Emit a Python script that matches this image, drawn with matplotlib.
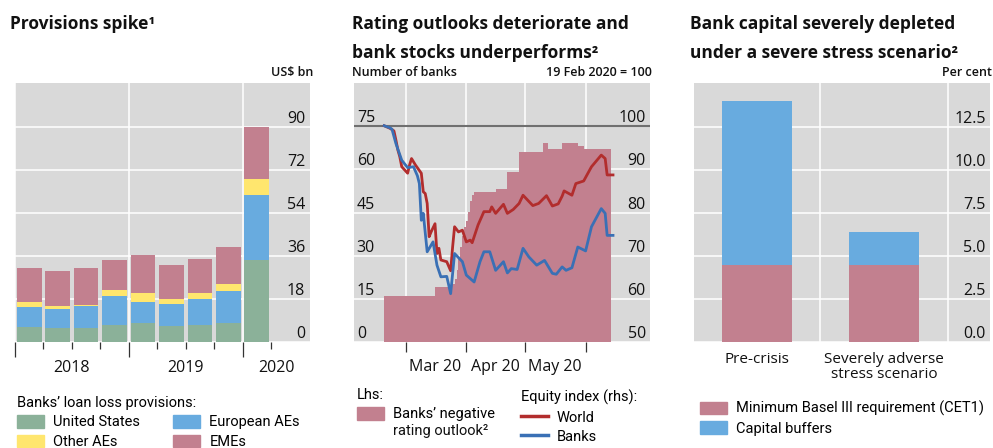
import matplotlib
matplotlib.use("Agg")
import matplotlib.pyplot as plt
import matplotlib.dates as mdates
from matplotlib.patches import Patch
from matplotlib.lines import Line2D
import pandas as pd

plt.rcParams['font.family'] = ['Open Sans', 'DejaVu Sans']

# ---- panel 1: loan loss provisions, US$ bn
quarters = ['2018Q1', '2018Q2', '2018Q3', '2018Q4',
            '2019Q1', '2019Q2', '2019Q3', '2019Q4', '2020Q1']
united_states = [6.1, 5.9, 5.9, 7.0, 7.8, 6.7, 7.0, 7.8, 34.3]
european_aes = [8.4, 7.8, 9.0, 12.1, 8.8, 9.1, 10.9, 13.4, 27.1]
other_aes = [2.1, 1.2, 0.4, 2.5, 3.8, 2.1, 2.5, 3.3, 6.7]
emes = [14.2, 14.7, 15.5, 12.6, 15.9, 14.2, 14.2, 15.1, 22.1]
years = ['2018', '2019', '2020']
p1_ticks = [0, 18, 36, 54, 72, 90]

# ---- panel 2: negative outlooks (lhs) and equity indices (rhs)
outlook_dates = ['2020-02-19', '2020-03-16', '2020-03-24', '2020-03-26', '2020-03-27',
                 '2020-03-28', '2020-03-29', '2020-03-30', '2020-03-31', '2020-04-01',
                 '2020-04-02', '2020-04-03', '2020-04-04', '2020-04-05', '2020-04-16',
                 '2020-04-22', '2020-04-28', '2020-05-10', '2020-05-13', '2020-05-20',
                 '2020-05-28', '2020-05-31', '2020-06-14']
outlook_vals = [16, 19, 20, 22, 25, 29, 33, 37, 40, 42, 45, 49, 51, 52, 53,
                59, 66, 69, 67, 69, 68, 67, 67]

world_dates = ['2020-02-19', '2020-02-22', '2020-02-24', '2020-02-25', '2020-02-26',
               '2020-02-27', '2020-02-28', '2020-03-02', '2020-03-03', '2020-03-04',
               '2020-03-06', '2020-03-09', '2020-03-10', '2020-03-11', '2020-03-12',
               '2020-03-13', '2020-03-14', '2020-03-16', '2020-03-17', '2020-03-18',
               '2020-03-19', '2020-03-22', '2020-03-24', '2020-03-25', '2020-03-26',
               '2020-03-28', '2020-03-30', '2020-04-01', '2020-04-03', '2020-04-04',
               '2020-04-07', '2020-04-10', '2020-04-13', '2020-04-14', '2020-04-16',
               '2020-04-20', '2020-04-22', '2020-04-25', '2020-04-28', '2020-04-30',
               '2020-05-05', '2020-05-08', '2020-05-12', '2020-05-15', '2020-05-18',
               '2020-05-20', '2020-05-21', '2020-05-25', '2020-05-27', '2020-05-31',
               '2020-06-04', '2020-06-09', '2020-06-11', '2020-06-12', '2020-06-15']
world_vals = [100.1, 99.5, 98.9, 96.8, 94.5, 92.9, 90.6, 89.1, 91.0, 92.5,
              91.0, 89.1, 84.8, 84.4, 82.1, 74.4, 75.5, 77.4, 70.5, 71.7,
              69.0, 68.6, 66.5, 72.0, 76.7, 75.5, 75.9, 73.2, 73.6, 73.0,
              77.1, 80.2, 80.2, 81.3, 79.8, 81.9, 79.8, 80.7, 82.1, 84.0,
              81.6, 82.1, 83.9, 81.5, 82.0, 83.8, 85.0, 84.0, 86.7, 87.3,
              90.6, 93.3, 92.5, 88.7, 88.7]

bank_dates = ['2020-02-19', '2020-02-22', '2020-02-23', '2020-02-25', '2020-02-28',
              '2020-03-02', '2020-03-05', '2020-03-07', '2020-03-08', '2020-03-09',
              '2020-03-10', '2020-03-12', '2020-03-15', '2020-03-17', '2020-03-19',
              '2020-03-22', '2020-03-24', '2020-03-26', '2020-03-30', '2020-04-01',
              '2020-04-05', '2020-04-08', '2020-04-10', '2020-04-13', '2020-04-16',
              '2020-04-20', '2020-04-22', '2020-04-24', '2020-04-27', '2020-04-30',
              '2020-05-03', '2020-05-07', '2020-05-11', '2020-05-15', '2020-05-17',
              '2020-05-20', '2020-05-22', '2020-05-25', '2020-05-28', '2020-06-01',
              '2020-06-04', '2020-06-09', '2020-06-11', '2020-06-12', '2020-06-15']
bank_vals = [100.1, 99.6, 99.3, 96.0, 92.1, 90.4, 90.6, 88.5, 86.7, 78.2,
             79.8, 70.9, 73.2, 67.8, 65.1, 65.2, 61.2, 70.5, 68.6, 65.5,
             63.9, 68.6, 70.9, 70.9, 66.6, 68.6, 66.0, 67.0, 66.8, 71.7,
             69.7, 67.8, 68.9, 65.9, 65.7, 67.4, 66.6, 67.2, 72.0, 71.1,
             76.7, 80.9, 79.8, 74.7, 74.7]
lhs_ticks = [0, 15, 30, 45, 60, 75]
rhs_ticks = [50, 60, 70, 80, 90, 100]

# ---- panel 3: CET1 ratios, per cent
scenarios = ['Pre-crisis', 'Severely adverse\nstress scenario']
cet1_min = [4.5, 4.5]
capital_buffers = [9.5, 1.9]
p3_ticks = [0.0, 2.5, 5.0, 7.5, 10.0, 12.5]

GREY = '#D9D9D9'
GREEN = '#8BB199'
BLUE = '#68ABDF'
YELLOW = '#FFE66E'
PINK = '#C2808F'
RED = '#B22D2D'
NAVY = '#3A70B5'
TXT = '#111111'

W, H = 993, 448
fig = plt.figure(figsize=(W / 100, H / 100), dpi=100)


def px_axes(left, top, right, bottom):
    return fig.add_axes([left / W, 1 - bottom / H, (right - left) / W, (bottom - top) / H])


def fx(x):
    return x / W


def fy(y):
    return 1 - y / H


def style(ax):
    ax.set_facecolor(GREY)
    for s in ax.spines.values():
        s.set_visible(False)
    ax.set_axisbelow(True)
    ax.grid(True, color='white', linewidth=1.1)


# ---------------- panel 1
ax1 = px_axes(15, 83, 310, 342)
style(ax1)
xpos = list(range(len(quarters)))
b0 = united_states
b1 = [a + b for a, b in zip(b0, european_aes)]
b2 = [a + b for a, b in zip(b1, other_aes)]
ax1.bar(xpos, united_states, width=0.87, color=GREEN)
ax1.bar(xpos, european_aes, bottom=b0, width=0.87, color=BLUE)
ax1.bar(xpos, other_aes, bottom=b1, width=0.87, color=YELLOW)
ax1.bar(xpos, emes, bottom=b2, width=0.87, color=PINK)
ax1.set_xlim(-0.48, 9.87)
ax1.set_ylim(0, 108.5)
ax1.set_xticks([-0.5, 3.5, 7.5])
ax1.set_xticks([0.5, 1.5, 2.5, 4.5, 5.5, 6.5, 8.5], minor=True)
ax1.tick_params(axis='x', which='major', length=11, width=0.9, color='#333333', labelbottom=False)
ax1.tick_params(axis='x', which='minor', length=5, width=0.9, color='#333333')
ax1.grid(False, axis='x', which='minor')
ax1.yaxis.tick_right()
ax1.set_yticks(p1_ticks, labels=[str(t) for t in p1_ticks], ha='right', va='bottom')
ax1.tick_params(axis='y', length=0, pad=-3.5, labelsize=11.5, labelcolor=TXT)
for x, yr in zip([1.5, 5.5, 8.68], years):
    ax1.text(x, -0.1, yr, transform=ax1.get_xaxis_transform(), ha='center', va='center',
             fontsize=11.5, color=TXT)

# ---------------- panel 2
ax2 = px_axes(354, 83, 650, 342)
style(ax2)
od = pd.to_datetime(outlook_dates)
ax2.fill_between(od, 0, outlook_vals, step='post', color=PINK, linewidth=0)
ax2.set_ylim(0, 90)
ax2.set_xlim(pd.Timestamp('2020-02-03 14:00'), pd.Timestamp('2020-07-03 22:00'))
ax2.set_yticks(lhs_ticks, labels=[str(t) for t in lhs_ticks], ha='left', va='bottom')
ax2.tick_params(axis='y', length=0, pad=-2, labelsize=11.5, labelcolor=TXT)
ax2.axhline(75, color='#707070', linewidth=1.5, zorder=3)
ax2.xaxis.set_major_locator(mdates.MonthLocator(bymonth=[3, 4, 5, 6]))
ax2.xaxis.set_major_formatter(mdates.DateFormatter(''))
ax2.xaxis.set_minor_locator(mdates.MonthLocator(bymonth=[3, 4, 5], bymonthday=16))
ax2.xaxis.set_minor_formatter(mdates.DateFormatter('%b %y'))
ax2.tick_params(axis='x', which='major', length=7, width=0.9, color='#333333')
ax2.tick_params(axis='x', which='minor', length=0, pad=12, labelsize=11.5, labelcolor=TXT)

ax2r = ax2.twinx()
for s in ax2r.spines.values():
    s.set_visible(False)
ax2r.set_ylim(50, 110)
ax2r.plot(pd.to_datetime(world_dates), world_vals, color=RED, linewidth=2.0)
ax2r.plot(pd.to_datetime(bank_dates), bank_vals, color=NAVY, linewidth=2.0)
ax2r.set_yticks(rhs_ticks, labels=[str(t) for t in rhs_ticks], ha='right', va='bottom')
ax2r.tick_params(axis='y', length=0, pad=-3, labelsize=11.5, labelcolor=TXT)

# ---------------- panel 3
ax3 = px_axes(694, 83, 990, 342)
style(ax3)
ax3.bar([0, 1], cet1_min, width=0.55, color=PINK)
ax3.bar([0, 1], capital_buffers, bottom=cet1_min, width=0.55, color=BLUE)
ax3.set_xlim(-0.494, 1.834)
ax3.set_ylim(0, 15.05)
ax3.set_xticks([0.5, 1.5])
ax3.set_xticks([0, 1], labels=scenarios, minor=True)
ax3.tick_params(axis='x', which='both', length=0, labelbottom=False)
ax3.tick_params(axis='x', which='minor', labelbottom=True, pad=7, labelsize=11, labelcolor=TXT)
ax3.grid(False, axis='x', which='minor')
ax3.yaxis.tick_right()
ax3.set_yticks(p3_ticks, labels=[f'{t:.1f}' for t in p3_ticks], ha='right', va='bottom')
ax3.tick_params(axis='y', length=0, pad=-3, labelsize=11.5, labelcolor=TXT)
for lab in ax3.get_xticklabels(minor=True):
    lab.set_linespacing(1.0)

# ---------------- titles and unit labels
tkw = dict(fontsize=12.5, fontweight='bold', color=TXT, va='baseline')
fig.text(fx(10), fy(29), 'Provisions spike\u00b9', **tkw)
fig.text(fx(352), fy(29), 'Rating outlooks deteriorate and', **tkw)
fig.text(fx(352), fy(58), 'bank stocks underperforms\u00b2', **tkw)
fig.text(fx(690), fy(29), 'Bank capital severely depleted', **tkw)
fig.text(fx(690), fy(58), 'under a severe stress scenario\u00b2', **tkw)

ukw = dict(fontsize=9, fontweight='semibold', color=TXT, va='center')
fig.text(fx(313), fy(72), 'US\\$ bn', ha='right', **ukw)
fig.text(fx(352), fy(72), 'Number of banks', ha='left', **ukw)
fig.text(fx(652), fy(72), '19 Feb 2020 = 100', ha='right', **ukw)
fig.text(fx(942), fy(72), 'Per cent', ha='left', **ukw)

# ---------------- legends
lfont = {'family': 'Roboto', 'size': 10.5}
lkw = dict(frameon=False, prop=lfont, borderpad=0, borderaxespad=0,
           handlelength=1.85, handleheight=0.95, handletextpad=0.62,
           labelspacing=0.35, alignment='left')

h1 = [Patch(color=GREEN), Patch(color=YELLOW), Patch(color=BLUE), Patch(color=PINK)]
l1 = ['United States', 'Other AEs', 'European AEs', 'EMEs']
fig.legend(h1, l1, loc='upper left', bbox_to_anchor=(fx(17), fy(396)), ncol=2,
           columnspacing=2.3, title="Banks\u2019 loan loss provisions:",
           title_fontproperties=lfont, **lkw)

fig.legend([Patch(color=PINK)], ['Banks\u2019 negative'],
           loc='upper left', bbox_to_anchor=(fx(357), fy(388)),
           title='Lhs:', title_fontproperties=lfont, **lkw)
fig.text(fx(393), fy(431), 'rating outlook\u00b2', fontfamily='Roboto', fontsize=10.5,
         color=TXT, va='center')

h3 = [Line2D([], [], color=RED, linewidth=2.5), Line2D([], [], color=NAVY, linewidth=2.5)]
fig.legend(h3, ['World', 'Banks'], loc='upper left', bbox_to_anchor=(fx(521), fy(390)),
           title='Equity index (rhs):', title_fontproperties=lfont, **lkw)

fig.legend([Patch(color=PINK), Patch(color=BLUE)],
           ['Minimum Basel III requirement (CET1)', 'Capital buffers'],
           loc='upper left', bbox_to_anchor=(fx(700), fy(401)), **lkw)

fig.savefig('out.png', dpi=100)
